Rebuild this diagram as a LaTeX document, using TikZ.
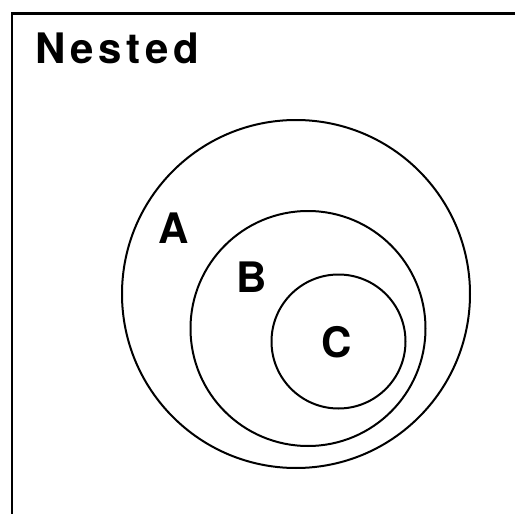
\documentclass[tikz,border=0pt]{standalone}
\usepackage{fontspec}
\setmainfont{TeX Gyre Heros}
\usetikzlibrary{shapes.geometric, positioning}

\begin{document}
\begin{tikzpicture}[x=1pt, y=-1pt,
        ring/.style={draw, circle, line width=2pt, inner sep=0pt},
        tag/.style={inner sep=0pt, font=\fontsize{42}{42}\selectfont\bfseries}
    ]
        \useasboundingbox (0,0) rectangle (515,514);
        % frame
        \draw[line width=2.6pt] (515,13.5) -- (12,13.5) -- (12,514);
        \node[tag, anchor=west] (title) at (35,48) {\addfontfeature{LetterSpace=11}Nested};

        \node[ring, minimum size=348pt] (setA) at (296,294) {};
        \node[ring, minimum size=235pt] (setB) at (308,328.5) {};
        \node[ring, minimum size=134pt] (setC) at (338.5,341.5) {};

        \node[tag] (labA) at (173.5,228) {A};
        \node[tag] (labB) at (252,277.5) {B};
        \node[tag] (labC) at (336.5,342) {C};
    \end{tikzpicture}
\end{document}
